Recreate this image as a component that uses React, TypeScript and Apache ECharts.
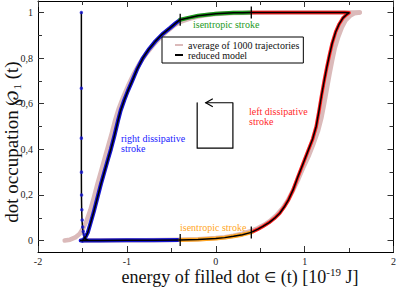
import React, { useEffect, useRef } from "react";
import * as echarts from "echarts";

// ---------- data ----------
// energy (10^-19 J), dot occupation
const rightDissipativeRise: [number, number][] = [
  [-1.5, 0.0], [-1.47, 0.012], [-1.44, 0.035], [-1.41, 0.075], [-1.37, 0.13], [-1.33, 0.19],
  [-1.29, 0.25], [-1.25, 0.305], [-1.21, 0.36], [-1.18, 0.4], [-1.14, 0.46], [-1.1, 0.525],
  [-1.07, 0.57], [-1.03, 0.615], [-0.99, 0.655], [-0.94, 0.7], [-0.88, 0.755], [-0.82, 0.8],
  [-0.75, 0.84], [-0.68, 0.873], [-0.6, 0.905], [-0.52, 0.93], [-0.45, 0.953], [-0.4, 0.968],
];
const rightDissipativeBottom: [number, number][] = [
  [-0.4, 0.003], [-0.7, 0.002], [-1.0, 0.001], [-1.3, 0.0], [-1.52, 0.0],
];
const relaxationDrop: [number, number][] = [
  [-1.512, 1.0], [-1.512, 0.6], [-1.512, 0.3], [-1.511, 0.2], [-1.509, 0.14], [-1.505, 0.09],
  [-1.499, 0.055], [-1.49, 0.03], [-1.478, 0.014], [-1.462, 0.006], [-1.44, 0.003],
];
const relaxationDots: [number, number][] = [
  [-1.512, 1.0], [-1.512, 0.668], [-1.512, 0.449], [-1.511, 0.3], [-1.51, 0.2], [-1.507, 0.135],
  [-1.503, 0.09], [-1.497, 0.06], [-1.49, 0.04], [-1.48, 0.026],
];
const isentropicTop: [number, number][] = [
  [-0.4, 0.968], [-0.3, 0.977], [-0.2, 0.985], [-0.1, 0.99], [0.0, 0.994], [0.1, 0.996],
  [0.2, 0.998], [0.3, 0.999], [0.4, 1.0],
];
const leftDissipative: [number, number][] = [
  [0.4, 1.0], [0.8, 1.0], [1.2, 1.0], [1.45, 1.0], [1.5, 0.998], [1.47, 0.99], [1.43, 0.975],
  [1.39, 0.95], [1.35, 0.915], [1.31, 0.865], [1.28, 0.815], [1.25, 0.76], [1.22, 0.7],
  [1.19, 0.635], [1.16, 0.565], [1.13, 0.5], [1.09, 0.445], [1.04, 0.395], [0.98, 0.335],
  [0.92, 0.275], [0.87, 0.222], [0.82, 0.18], [0.77, 0.147], [0.72, 0.12], [0.66, 0.097],
  [0.6, 0.079], [0.53, 0.062], [0.47, 0.049], [0.4, 0.036],
];
const isentropicBottom: [number, number][] = [
  [0.4, 0.036], [0.3, 0.026], [0.2, 0.019], [0.1, 0.013], [0.0, 0.009], [-0.1, 0.007],
  [-0.2, 0.005], [-0.3, 0.004], [-0.4, 0.003],
];
const averageRise: [number, number][] = [
  [-1.7, 0.0], [-1.64, 0.004], [-1.58, 0.014], [-1.53, 0.03], [-1.49, 0.055], [-1.45, 0.09],
  [-1.41, 0.135], [-1.37, 0.19], [-1.33, 0.25], [-1.29, 0.305], [-1.25, 0.36], [-1.21, 0.415],
  [-1.17, 0.47], [-1.13, 0.53], [-1.09, 0.58], [-1.04, 0.63], [-0.99, 0.675], [-0.93, 0.725],
  [-0.86, 0.775], [-0.78, 0.82], [-0.7, 0.858], [-0.62, 0.892], [-0.54, 0.92], [-0.46, 0.945],
  [-0.4, 0.958], [-0.3, 0.972], [-0.2, 0.982], [-0.1, 0.989], [0.0, 0.993], [0.2, 0.997],
  [0.4, 0.999], [0.8, 1.0], [1.2, 1.0], [1.62, 1.0],
];
const averageFall: [number, number][] = [
  [1.62, 1.0], [1.56, 0.996], [1.51, 0.985], [1.46, 0.965], [1.42, 0.935], [1.38, 0.895],
  [1.34, 0.845], [1.31, 0.79], [1.28, 0.73], [1.25, 0.665], [1.22, 0.6], [1.19, 0.54],
  [1.15, 0.48], [1.1, 0.425], [1.05, 0.375], [0.99, 0.325], [0.93, 0.27], [0.87, 0.22],
  [0.81, 0.176], [0.75, 0.141], [0.69, 0.114], [0.62, 0.089], [0.55, 0.07], [0.47, 0.054],
  [0.4, 0.043], [0.3, 0.03], [0.2, 0.021], [0.1, 0.015], [0.0, 0.011], [-0.2, 0.006],
  [-0.4, 0.004], [-0.8, 0.002], [-1.2, 0.001], [-1.5, 0.0],
];
const strokeBoundaries: [number, number][] = [
  [-0.4, 0.968], [0.4, 1.0], [0.4, 0.036], [-0.4, 0.003],
];
const cycleArrow: [number, number][] = [
  [-0.209, 0.604], [-0.209, 0.405], [0.193, 0.405], [0.193, 0.604], [-0.112, 0.604],
];
const yMajorTicks = [0, 0.2, 0.4, 0.6, 0.8, 1];
const yMinorTicks = [0.1, 0.3, 0.5, 0.7, 0.9];

const FONT = "Liberation Serif, Times New Roman, serif";
const PINK = "#dbbaba";
const BLUE = "#1414d2";
const GREEN = "#1c9a1c";
const RED = "#ff1a1a";
const ORANGE = "#ffa726";

const line = (data: [number, number][], color: string, width: number, z: number, name?: string) => ({
  type: "line",
  name,
  data,
  showSymbol: false,
  symbol: "none",
  z,
  silent: true,
  itemStyle: { color },
  lineStyle: { color, width, cap: "round", join: "round" },
});

const yAxisBase = (position: string, values: number[], len: number, labels: boolean, axisLine: boolean) => ({
  type: "value",
  position,
  min: -0.05,
  max: 1.05,
  splitLine: { show: false },
  axisLine: { show: axisLine, onZero: false, lineStyle: { color: "#000", width: 1 } },
  axisTick: { show: true, inside: true, length: len, customValues: values, lineStyle: { color: "#333", width: 1 } },
  axisLabel: {
    show: labels,
    customValues: values,
    margin: 5,
    fontFamily: FONT,
    fontSize: 10,
    color: "#222",
    formatter: (v: number) => String(v).replace(".", ","),
  },
});

const xAxisBase = (position: string, labels: boolean) => ({
  type: "value",
  position,
  min: -2,
  max: 2,
  interval: 1,
  splitLine: { show: false },
  axisLine: { show: true, onZero: false, lineStyle: { color: "#000", width: 1 } },
  axisTick: { show: true, inside: true, length: 6, lineStyle: { color: "#333", width: 1 } },
  minorTick: { show: true, splitNumber: 2, length: 4, lineStyle: { color: "#333", width: 1 } },
  axisLabel: { show: labels, margin: 4, fontFamily: FONT, fontSize: 10, color: "#222" },
});

export default function App() {
  const ref = useRef<HTMLDivElement>(null);
  useEffect(() => {
    if (!ref.current) return;
    const chart = echarts.init(ref.current, null, { renderer: "svg" });
    const option: any = {
      animation: false,
      backgroundColor: "#fff",
      textStyle: { fontFamily: FONT },
      grid: { left: 38, right: 3, top: 1, bottom: 35, containLabel: false },
      xAxis: [xAxisBase("bottom", true), xAxisBase("top", false)],
      yAxis: [
        yAxisBase("left", yMajorTicks, 6, true, true),
        yAxisBase("left", yMinorTicks, 4, false, false),
        yAxisBase("right", yMajorTicks, 6, false, true),
        yAxisBase("right", yMinorTicks, 4, false, false),
      ],
      legend: {
        data: [
          { name: "average of 1000 trajectories", icon: "rect" },
          { name: "reduced model", icon: "rect" },
        ],
        orient: "vertical",
        left: 162,
        top: 37,
        itemWidth: 8,
        itemHeight: 2,
        itemGap: 0,
        padding: [3, 4, 3, 13],
        borderColor: "#000",
        borderWidth: 1,
        backgroundColor: "#fff",
        selectedMode: false,
        textStyle: { fontFamily: FONT, fontSize: 10, color: "#111", lineHeight: 10 },
      },
      series: [
        line(averageRise, PINK, 4.5, 1, "average of 1000 trajectories"),
        line(averageFall, PINK, 4.5, 1, "average of 1000 trajectories"),
        line(rightDissipativeRise, BLUE, 4, 2),
        line(rightDissipativeBottom, BLUE, 4, 2),
        line(isentropicTop, GREEN, 4, 2),
        line(leftDissipative, RED, 3.5, 2),
        line(isentropicBottom, ORANGE, 4, 2),
        line(rightDissipativeRise, "#000", 1.5, 3, "reduced model"),
        line(rightDissipativeBottom, "#000", 1.5, 3, "reduced model"),
        line(isentropicTop, "#000", 1.5, 3, "reduced model"),
        line(leftDissipative, "#000", 1.5, 3, "reduced model"),
        line(isentropicBottom, "#000", 1.5, 3, "reduced model"),
        line(relaxationDrop, "#000", 1.5, 3, "reduced model"),
        {
          type: "scatter",
          data: relaxationDots,
          symbol: "circle",
          symbolSize: 3.5,
          itemStyle: { color: BLUE },
          z: 4,
          silent: true,
        },
        {
          type: "custom",
          data: strokeBoundaries,
          z: 5,
          silent: true,
          renderItem: (_p: any, api: any) => {
            const c = api.coord([api.value(0), api.value(1)]);
            return {
              type: "line",
              shape: { x1: c[0], y1: c[1] - 6, x2: c[0], y2: c[1] + 6 },
              style: { stroke: "#000", lineWidth: 1.3 },
            };
          },
        },
        line(cycleArrow, "#000", 1.2, 3),
        {
          type: "custom",
          data: [cycleArrow[cycleArrow.length - 1]],
          z: 5,
          silent: true,
          renderItem: (_p: any, api: any) => {
            const c = api.coord([api.value(0), api.value(1)]);
            return {
              type: "polyline",
              shape: { points: [[c[0] + 7, c[1] - 4], [c[0], c[1]], [c[0] + 7, c[1] + 4]] },
              style: { stroke: "#000", lineWidth: 1.2, fill: "none" },
            };
          },
        },
      ],
      graphic: [
        {
          type: "text",
          x: 240,
          y: 277,
          style: {
            text: "energy of filled dot {e|\u2208} (t) [10{sup|-19} J]",
            fontFamily: FONT,
            fontSize: 18,
            lineHeight: 22,
            fill: "#111",
            align: "center",
            verticalAlign: "middle",
            rich: {
              e: { fontFamily: FONT, fontSize: 14, lineHeight: 20, verticalAlign: "middle", fill: "#111" },
              sup: { fontFamily: FONT, fontSize: 11, lineHeight: 11, verticalAlign: "top", fill: "#111" },
            },
          },
        },
        {
          type: "text",
          x: 11,
          y: 142,
          rotation: Math.PI / 2,
          style: {
            text: "dot occupation \u2118{sub|1} (t)",
            fontFamily: FONT,
            fontSize: 19,
            lineHeight: 22,
            fill: "#111",
            align: "center",
            verticalAlign: "middle",
            rich: {
              sub: { fontFamily: FONT, fontSize: 11, lineHeight: 11, verticalAlign: "bottom", fill: "#111" },
            },
          },
        },
        {
          type: "text",
          x: 193,
          y: 24,
          style: { text: "isentropic stroke", fontFamily: FONT, fontSize: 10, fill: GREEN, verticalAlign: "middle" },
        },
        {
          type: "text",
          x: 180,
          y: 227,
          style: { text: "isentropic stroke", fontFamily: FONT, fontSize: 10, fill: ORANGE, verticalAlign: "middle" },
        },
        {
          type: "text",
          x: 121,
          y: 133,
          style: { text: "right dissipative\nstroke", fontFamily: FONT, fontSize: 10, lineHeight: 10, fill: "#1a1aff", verticalAlign: "top" },
        },
        {
          type: "text",
          x: 249,
          y: 106,
          style: { text: "left dissipative\nstroke", fontFamily: FONT, fontSize: 10, lineHeight: 10, fill: "#ff2a2a", verticalAlign: "top" },
        },
      ],
    };
    chart.setOption(option);
    return () => chart.dispose();
  }, []);
  return (
    <div
      ref={ref}
      style={{ position: "fixed", left: 0, top: 0, width: 399, height: 287, background: "#fff" }}
    />
  );
}
